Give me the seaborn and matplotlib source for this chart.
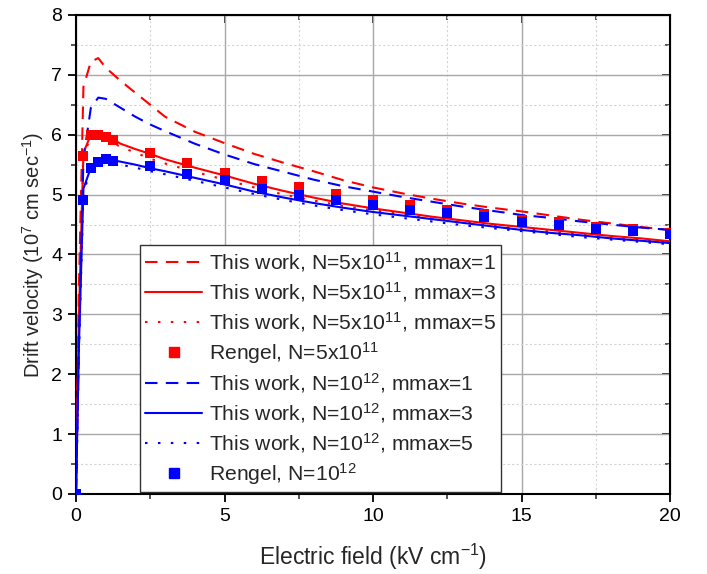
import numpy as np
import matplotlib
matplotlib.use("Agg")
import matplotlib.pyplot as plt
import seaborn as sns
from matplotlib.lines import Line2D
from matplotlib.ticker import MultipleLocator

sns.set_style("white")
plt.rcParams['font.family'] = ['Liberation Sans', 'DejaVu Sans']
plt.rcParams['mathtext.fontset'] = 'custom'
plt.rcParams['mathtext.rm'] = 'Liberation Sans'
plt.rcParams['mathtext.it'] = 'Liberation Sans'

# --- data ---
e_line = [0, 0.1, 0.25, 0.5, 0.75, 1.0, 1.5, 2.0, 2.5, 3, 4, 5, 6, 7, 8, 9, 10,
          11, 12, 13, 14, 15, 16, 17, 18, 19, 20]

v_5e11_m1 = [0, 3.5, 6.8, 7.22, 7.28, 7.12, 6.9, 6.7, 6.5, 6.3, 6.05, 5.86, 5.68, 5.53, 5.39,
             5.24, 5.12, 5.02, 4.93, 4.85, 4.78, 4.72, 4.65, 4.58, 4.52, 4.46, 4.41]
v_5e11_m3 = [0, 3.0, 5.7, 6.0, 6.03, 6.0, 5.85, 5.76, 5.68, 5.59, 5.45, 5.32, 5.18, 5.06, 4.95,
             4.85, 4.77, 4.7, 4.63, 4.57, 4.51, 4.46, 4.41, 4.36, 4.31, 4.27, 4.22]
v_5e11_m5 = [0, 3.0, 5.65, 5.97, 6.0, 5.92, 5.8, 5.7, 5.6, 5.52, 5.38, 5.25, 5.12, 5.0, 4.9,
             4.81, 4.74, 4.67, 4.6, 4.54, 4.48, 4.43, 4.38, 4.33, 4.28, 4.24, 4.2]
v_1e12_m1 = [0, 2.5, 5.6, 6.45, 6.62, 6.6, 6.45, 6.3, 6.17, 6.06, 5.85, 5.67, 5.51, 5.38, 5.25,
             5.14, 5.05, 4.96, 4.88, 4.8, 4.73, 4.66, 4.61, 4.55, 4.5, 4.45, 4.41]
v_1e12_m3 = [0, 2.5, 5.1, 5.45, 5.56, 5.6, 5.55, 5.5, 5.44, 5.39, 5.28, 5.17, 5.05, 4.95, 4.86,
             4.78, 4.71, 4.65, 4.59, 4.53, 4.47, 4.41, 4.36, 4.32, 4.27, 4.23, 4.19]
v_1e12_m5 = [0, 2.4, 5.05, 5.4, 5.5, 5.53, 5.5, 5.45, 5.39, 5.34, 5.23, 5.12, 5.01, 4.91, 4.82,
             4.74, 4.67, 4.61, 4.55, 4.49, 4.44, 4.39, 4.34, 4.29, 4.25, 4.21, 4.17]

e_rengel = [0, 0.25, 0.5, 0.75, 1.0, 1.25, 2.5, 3.75, 5, 6.25, 7.5, 8.75, 10,
            11.25, 12.5, 13.75, 15, 16.25, 17.5, 18.75, 20]
rengel_5e11 = [0, 5.64, 5.99, 6.0, 5.97, 5.92, 5.69, 5.52, 5.36, 5.23, 5.12, 5.01, 4.91,
               4.82, 4.74, 4.67, 4.58, 4.54, 4.46, 4.42, 4.36]
rengel_1e12 = [0, 4.91, 5.44, 5.54, 5.59, 5.56, 5.48, 5.35, 5.24, 5.10, 5.0, 4.91, 4.82,
               4.75, 4.69, 4.63, 4.55, 4.49, 4.43, 4.39, 4.34]

lab_r = 'N=5x10$^{11}$'
lab_b = 'N=10$^{12}$'
labels = ['This work, ' + lab_r + ', mmax=1', 'This work, ' + lab_r + ', mmax=3',
          'This work, ' + lab_r + ', mmax=5', 'Rengel, ' + lab_r,
          'This work, ' + lab_b + ', mmax=1', 'This work, ' + lab_b + ', mmax=3',
          'This work, ' + lab_b + ', mmax=5', 'Rengel, ' + lab_b]

RED = '#ff0000'
BLUE = '#0000ff'
dash = (0, (6, 4))
dot = (0, (1.2, 5))

fig = plt.figure(figsize=(7.07, 5.74), dpi=100)
ax = fig.add_axes([0.1075, 0.1394, 0.8402, 0.8345])

lw = 1.5
series = [(v_5e11_m1, RED, dash), (v_5e11_m3, RED, '-'), (v_5e11_m5, RED, dot),
          (v_1e12_m1, BLUE, dash), (v_1e12_m3, BLUE, '-'), (v_1e12_m5, BLUE, dot)]
for vals, col, ls in series:
    sns.lineplot(x=e_line, y=vals, ax=ax, color=col, linestyle=ls, linewidth=lw,
                 zorder=3, legend=False)

sns.scatterplot(x=e_rengel, y=rengel_5e11, ax=ax, color=RED, marker='s', s=45,
                linewidth=0, zorder=4, legend=False)
sns.scatterplot(x=e_rengel, y=rengel_1e12, ax=ax, color=BLUE, marker='s', s=45,
                linewidth=0, zorder=5, legend=False)

ax.set_xlim(0, 20)
ax.set_ylim(0, 8)
ax.xaxis.set_major_locator(MultipleLocator(5))
ax.xaxis.set_minor_locator(MultipleLocator(2.5))
ax.yaxis.set_major_locator(MultipleLocator(1))
ax.yaxis.set_minor_locator(MultipleLocator(0.5))
ax.grid(which='major', color='#a8a8a8', linewidth=1.0, linestyle='-')
ax.grid(which='minor', color='#d4d4d4', linewidth=0.8, linestyle=(0, (2, 2)))
ax.set_axisbelow(True)
for sp in ax.spines.values():
    sp.set_linewidth(1.5)
    sp.set_color('black')
ax.tick_params(which='major', direction='out', length=6, width=1.3, labelsize=14,
               left=True, bottom=True, colors='black', pad=4)
ax.tick_params(which='minor', direction='out', length=3.5, width=1.1, left=True, bottom=True)

# inward mirror ticks on top and right
top = ax.secondary_xaxis('top')
top.xaxis.set_major_locator(MultipleLocator(5))
top.xaxis.set_minor_locator(MultipleLocator(2.5))
top.tick_params(which='major', direction='in', length=6, width=1.3, labeltop=False)
top.tick_params(which='minor', direction='in', length=3.5, width=1.1)
right = ax.secondary_yaxis('right')
right.yaxis.set_major_locator(MultipleLocator(1))
right.yaxis.set_minor_locator(MultipleLocator(0.5))
right.tick_params(which='major', direction='in', length=6, width=1.3, labelright=False)
right.tick_params(which='minor', direction='in', length=3.5, width=1.1)

ax.set_xlabel('Electric field (kV cm$^{-1}$)', fontsize=16.5, labelpad=12)
ax.set_ylabel('Drift velocity (10$^{7}$ cm sec$^{-1}$)', fontsize=14.5, labelpad=4)

handles = []
for vals, col, ls in series[:3]:
    handles.append(Line2D([], [], color=col, linestyle=ls, linewidth=lw))
handles.append(Line2D([], [], color=RED, marker='s', linestyle='none', markersize=7))
for vals, col, ls in series[3:]:
    handles.append(Line2D([], [], color=col, linestyle=ls, linewidth=lw))
handles.append(Line2D([], [], color=BLUE, marker='s', linestyle='none', markersize=7))

leg = ax.legend(handles, labels, loc='lower left', bbox_to_anchor=(0.108, 0.004),
                fontsize=15.2, frameon=True, fancybox=False, framealpha=1,
                edgecolor='#333333', handlelength=2.7, handletextpad=0.3,
                labelspacing=0.28, borderpad=0.25, borderaxespad=0)
leg.get_frame().set_linewidth(1.0)
leg.set_zorder(10)

fig.savefig('out.png', dpi=100)
